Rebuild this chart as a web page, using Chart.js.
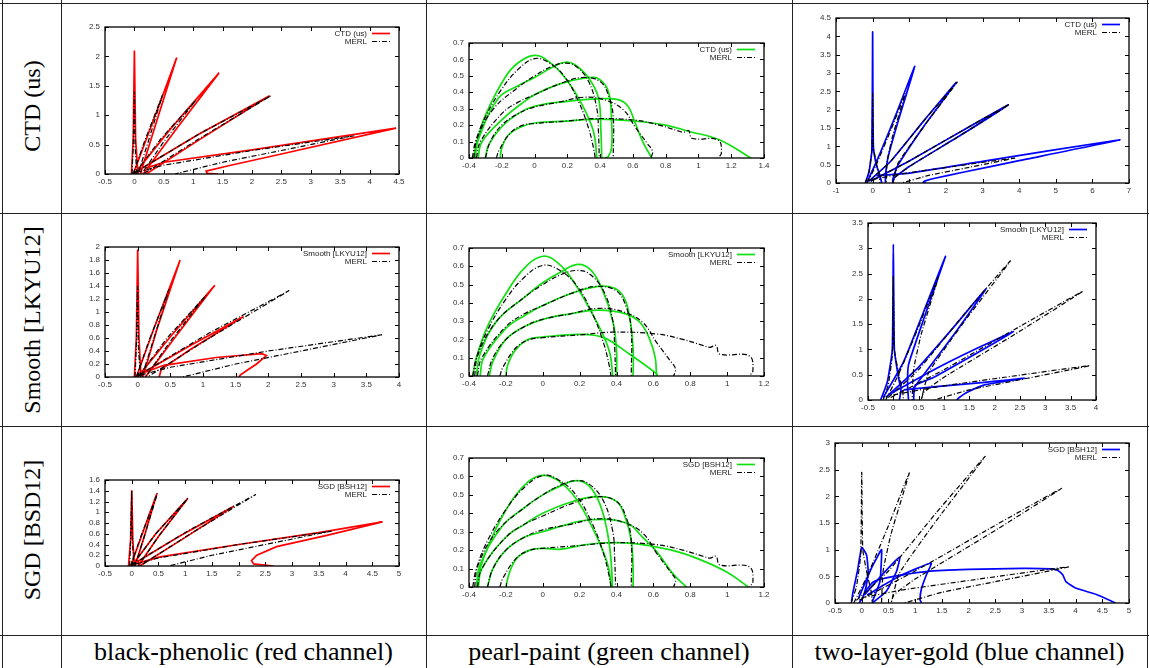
<!DOCTYPE html>
<html>
<head>
<meta charset="utf-8">
<script src="https://cdn.jsdelivr.net/npm/chart.js@4.4.0/dist/chart.umd.min.js"></script>
<style>
  body { margin: 0; background: #fff; }
  #page { position: relative; width: 1149px; height: 668px; overflow: hidden; background: #fff; }
  .hl, .vl { position: absolute; background: #222; }
  .hl { left: 0; width: 1149px; height: 1px; }
  .vl { top: 0; width: 1px; height: 668px; }
  .rowlab { position: absolute; left: 32px; font-family: "Liberation Serif", "Times New Roman", serif; font-size: 24px;
            white-space: nowrap; color: #000; transform: translate(-50%, -50%) rotate(-90deg); }
  .collab { position: absolute; top: 636px; height: 32px; line-height: 32px; text-align: center;
            font-family: "Liberation Serif", "Times New Roman", serif; font-size: 26px; color: #000; white-space: nowrap; }
  canvas { position: absolute; }
</style>
</head>
<body>
<div id="page">
  <div class="hl" style="top:3px"></div>
  <div class="hl" style="top:213px"></div>
  <div class="hl" style="top:426px"></div>
  <div class="hl" style="top:635px"></div>
  <div class="vl" style="left:2px"></div>
  <div class="vl" style="left:61px"></div>
  <div class="vl" style="left:426px"></div>
  <div class="vl" style="left:792px"></div>
  <div class="vl" style="left:1147px"></div>
</div>
<script>
// row / column captions
const rowNames = ['CTD (us)', 'Smooth [LKYU12]', 'SGD [BSD12]'];
const legendNames = ['CTD (us)', 'Smooth [LKYU12]', 'SGD [BSH12]'];
const materialNames = ['black-phenolic (red channel)', 'pearl-paint (green channel)', 'two-layer-gold (blue channel)'];

// axis ranges per panel, row by row: [xmin, xmax, xstep, ymin, ymax, ystep]
const axisRanges = [
  [-0.5, 4.5, 0.5, 0, 2.5, 0.5], [-0.4, 1.4, 0.2, 0, 0.7, 0.1], [-1, 7, 1, 0, 4.5, 0.5],
  [-0.5, 4, 0.5, 0, 2, 0.2],     [-0.4, 1.2, 0.2, 0, 0.7, 0.1], [-0.5, 4, 0.5, 0, 3.5, 0.5],
  [-0.5, 5, 0.5, 0, 1.6, 0.2],   [-0.4, 1.2, 0.2, 0, 0.7, 0.1], [-0.5, 5, 0.5, 0, 3, 0.5]
];

// black-phenolic lobes (x, y pairs)
const phenolicMerl = [
  [[-0.04,0],[-0.02,0.5],[0,1.4],[0.01,0.5],[0.04,0]],
  [[-0.02,0],[0.17,0.55],[0.48,1.35],[0.22,0.5],[0.06,0]],
  [[0,0],[0.45,0.6],[1.05,1.26],[0.5,0.55],[0.12,0]],
  [[0,0.02],[1.1,0.68],[2.32,1.33],[1.1,0.6],[0.15,0]],
  [[0.05,0.03],[0.5,0.15],[2,0.4],[3.74,0.65],[2.5,0.4],[1.5,0.2],[0.69,0]]
];
const phenolicCtd = [
  [[-0.05,0],[-0.02,0.6],[0,2.1],[0.02,0.6],[0.06,0]],
  [[-0.02,0],[0.3,0.85],[0.72,1.98],[0.38,0.9],[0.1,0]],
  [[0,0],[0.6,0.75],[1.44,1.72],[0.7,0.75],[0.15,0]],
  [[0,0.02],[1.1,0.68],[2.3,1.33],[1.1,0.58],[0.2,0]],
  [[0.2,0.1],[0.5,0.2],[2,0.41],[4.45,0.78],[2.5,0.34],[1.6,0.14],[1.22,0.05],[1.24,0.01],[1.42,0]]
];
const phenolicSmooth = [
  [[-0.05,0],[-0.02,0.6],[0,1.96],[0.02,0.6],[0.05,0]],
  [[-0.02,0],[0.25,0.75],[0.65,1.8],[0.3,0.75],[0.08,0]],
  [[0,0],[0.5,0.62],[1.18,1.41],[0.55,0.58],[0.12,0]],
  [[0,0.02],[0.8,0.48],[1.62,0.93],[0.8,0.42],[0.36,0.12],[0.33,0]],
  [[0.05,0.05],[0.4,0.18],[1.2,0.3],[1.9,0.36],[1.97,0.33],[1.82,0.2],[1.67,0.1],[1.57,0.03],[1.55,0]]
];
const phenolicSgd = [
  [[-0.06,0],[-0.02,0.5],[0,1.41],[0.02,0.5],[0.05,0]],
  [[-0.02,0],[0.18,0.55],[0.47,1.35],[0.22,0.5],[0.06,0]],
  [[0,0],[0.45,0.6],[1.05,1.26],[0.5,0.55],[0.12,0]],
  [[0,0.02],[0.9,0.56],[1.91,1.11],[0.95,0.5],[0.15,0]],
  [[0.1,0.05],[0.53,0.17],[2,0.4],[3.5,0.62],[4.69,0.82],[3.65,0.57],[2.71,0.36],[2.34,0.2],[2.24,0.1],[2.28,0.04],[2.65,0]]
];

// pearl-paint lobes
const pearlMerl = [
  [[-0.38,0],[-0.36,0.1],[-0.3,0.25],[-0.2,0.42],[-0.1,0.54],[0,0.605],[0.08,0.585],[0.18,0.5],[0.27,0.34],[0.33,0.18],[0.36,0.06],[0.37,0]],
  [[-0.37,0],[-0.35,0.12],[-0.25,0.3],[-0.1,0.43],[0,0.5],[0.1,0.555],[0.18,0.577],[0.25,0.56],[0.33,0.465],[0.38,0.3],[0.39,0.157],[0.395,0]],
  [[-0.355,0],[-0.33,0.1],[-0.2,0.27],[-0.1,0.34],[0,0.385],[0.15,0.45],[0.29,0.49],[0.4,0.465],[0.454,0.374],[0.48,0.25],[0.48,0]],
  [[-0.3,0],[-0.27,0.1],[-0.2,0.2],[-0.1,0.27],[0,0.31],[0.15,0.34],[0.3,0.37],[0.44,0.35],[0.545,0.29],[0.617,0.184],[0.69,0.085],[0.72,0.04],[0.71,0]],
  [[-0.233,0],[-0.215,0.05],[-0.143,0.157],[-0.07,0.2],[0,0.21],[0.2,0.225],[0.38,0.24],[0.617,0.23],[0.76,0.2],[0.87,0.167],[0.907,0.157],[0.94,0.167],[0.96,0.12],[1.12,0.11],[1.14,0.03],[1.12,0]]
];
const pearlCtd = [
  [[-0.374,0],[-0.35,0.1],[-0.3,0.26],[-0.18,0.49],[-0.1,0.58],[0,0.625],[0.084,0.59],[0.185,0.49],[0.29,0.325],[0.36,0.16],[0.38,0]],
  [[-0.364,0],[-0.34,0.12],[-0.22,0.365],[-0.1,0.44],[0,0.49],[0.1,0.548],[0.185,0.583],[0.247,0.568],[0.33,0.487],[0.39,0.365],[0.405,0.16],[0.41,0]],
  [[-0.345,0],[-0.32,0.1],[-0.18,0.25],[-0.08,0.33],[0,0.385],[0.15,0.45],[0.31,0.487],[0.39,0.483],[0.45,0.406],[0.47,0.223],[0.47,0.06],[0.45,0.01],[0.43,0]],
  [[-0.3,0],[-0.28,0.08],[-0.2,0.19],[-0.1,0.27],[0,0.315],[0.2,0.345],[0.39,0.36],[0.51,0.355],[0.57,0.315],[0.61,0.223],[0.66,0.1],[0.715,0]],
  [[-0.21,0],[-0.2,0.06],[-0.16,0.14],[-0.08,0.19],[0,0.213],[0.2,0.225],[0.39,0.237],[0.6,0.225],[0.8,0.2],[0.95,0.16],[1.13,0.11],[1.32,0]]
];
const pearlSmooth = [
  [[-0.38,0],[-0.36,0.1],[-0.3,0.27],[-0.2,0.45],[-0.1,0.59],[0,0.655],[0.08,0.62],[0.165,0.52],[0.29,0.3],[0.36,0.14],[0.38,0]],
  [[-0.36,0],[-0.34,0.12],[-0.25,0.3],[-0.1,0.43],[0,0.51],[0.1,0.57],[0.19,0.61],[0.26,0.58],[0.32,0.48],[0.38,0.3],[0.4,0.14],[0.4,0]],
  [[-0.34,0],[-0.32,0.1],[-0.2,0.26],[-0.1,0.33],[0,0.385],[0.15,0.45],[0.3,0.49],[0.39,0.48],[0.44,0.43],[0.47,0.33],[0.49,0.15],[0.49,0]],
  [[-0.29,0],[-0.27,0.08],[-0.2,0.2],[-0.1,0.27],[0,0.31],[0.15,0.34],[0.3,0.36],[0.45,0.34],[0.53,0.29],[0.58,0.2],[0.61,0.1],[0.617,0]],
  [[-0.2,0],[-0.19,0.06],[-0.15,0.14],[-0.08,0.2],[0,0.213],[0.2,0.228],[0.33,0.21],[0.47,0.12],[0.62,0.01],[0.62,0]]
];
const pearlSgd = [
  [[-0.36,0],[-0.34,0.1],[-0.28,0.26],[-0.18,0.45],[-0.08,0.57],[0,0.606],[0.08,0.58],[0.18,0.48],[0.28,0.3],[0.35,0.13],[0.373,0]],
  [[-0.36,0],[-0.34,0.12],[-0.22,0.33],[-0.1,0.43],[0,0.5],[0.1,0.55],[0.183,0.577],[0.25,0.55],[0.31,0.45],[0.35,0.3],[0.37,0.15],[0.378,0]],
  [[-0.35,0],[-0.33,0.1],[-0.2,0.27],[-0.1,0.34],[0,0.4],[0.15,0.46],[0.29,0.49],[0.4,0.465],[0.45,0.37],[0.48,0.25],[0.49,0.1],[0.49,0]],
  [[-0.3,0],[-0.27,0.1],[-0.2,0.2],[-0.1,0.27],[0,0.3],[0.1,0.33],[0.255,0.365],[0.455,0.347],[0.545,0.266],[0.62,0.19],[0.71,0.067],[0.78,0]],
  [[-0.2,0],[-0.18,0.08],[-0.14,0.157],[-0.07,0.2],[0,0.21],[0.1,0.205],[0.2,0.225],[0.35,0.24],[0.5,0.235],[0.7,0.2],[0.85,0.15],[1.0,0.08],[1.115,0]]
];

// two-layer-gold lobes
const goldMerl = [
  [[-0.2,0],[-0.1,0.3],[-0.02,0.9],[0,2.45],[0.02,1.0],[0.1,0.55],[0.18,0.2],[0.2,0]],
  [[-0.15,0],[0.1,0.5],[0.5,1.45],[0.89,2.44],[0.55,1.3],[0.4,0.6],[0.37,0]],
  [[-0.1,0.05],[0.5,0.6],[1.4,1.7],[2.31,2.75],[1.4,1.55],[0.7,0.55],[0.55,0]],
  [[-0.05,0.05],[1.0,0.6],[2.4,1.4],[3.74,2.15],[2.4,1.3],[1.0,0.45],[0.6,0.15],[0.55,0]],
  [[0,0.1],[0.8,0.25],[2.2,0.45],[3.88,0.68],[2.5,0.4],[1.5,0.2],[0.8,0]]
];
const goldCtd = [
  [[-0.2,0],[-0.1,0.3],[-0.02,0.9],[0,4.12],[0.02,1.0],[0.1,0.5],[0.2,0.2],[0.25,0]],
  [[-0.15,0.02],[0.2,0.8],[0.65,1.9],[1.15,3.18],[0.7,1.7],[0.42,0.7],[0.35,0.2],[0.35,0]],
  [[-0.1,0.05],[0.5,0.6],[1.4,1.7],[2.28,2.74],[1.4,1.55],[0.7,0.5],[0.55,0.1],[0.55,0]],
  [[-0.05,0.05],[1.0,0.6],[2.4,1.4],[3.7,2.13],[2.4,1.3],[1.0,0.45],[0.6,0.15],[0.55,0]],
  [[0.1,0.2],[1.0,0.27],[3.0,0.59],[6.75,1.18],[4.0,0.61],[2.5,0.3],[1.7,0.13],[1.42,0.05],[1.38,0.02],[1.45,0]]
];
const goldSmooth = [
  [[-0.25,0],[-0.12,0.35],[-0.02,1.0],[0,3.08],[0.02,1.0],[0.1,0.45],[0.15,0.2],[0.12,0]],
  [[-0.2,0.05],[0.2,0.75],[0.6,1.75],[1.03,2.84],[0.6,1.6],[0.3,0.7],[0.28,0.3],[0.3,0]],
  [[-0.15,0.05],[0.5,0.65],[1.2,1.45],[1.83,2.2],[1.2,1.3],[0.6,0.5],[0.42,0.25],[0.4,0]],
  [[-0.1,0.1],[0.8,0.6],[1.6,1.0],[2.37,1.35],[1.6,0.9],[0.8,0.45],[0.45,0.3],[0.38,0.2]],
  [[0.2,0.2],[0.9,0.27],[1.8,0.35],[2.6,0.43],[1.8,0.3],[1.45,0.15],[1.3,0.05],[1.25,0]]
];
const goldSgd = [
  [[-0.19,0.03],[-0.16,0.22],[-0.08,0.6],[0,1.04],[0.09,0.9],[0.12,0.59],[0.08,0.3],[0.02,0.1],[-0.05,0]],
  [[-0.06,0.09],[0.18,0.65],[0.37,1.0],[0.37,0.84],[0.34,0.4],[0.2,0.03]],
  [[0.05,0.15],[0.4,0.55],[0.71,0.86],[0.65,0.59],[0.46,0.22],[0.2,0]],
  [[0.1,0.15],[0.7,0.5],[1.3,0.75],[1.21,0.53],[1.12,0.28],[1.09,0.06],[1.12,0]],
  [[0.05,0.2],[0.22,0.4],[0.6,0.5],[1.21,0.59],[2.0,0.63],[3.0,0.65],[3.55,0.64],[3.67,0.61],[3.76,0.53],[3.82,0.4],[4.0,0.28],[4.39,0.16],[4.75,0]]
];

// plot frames on the page [left, top, right, bottom], row by row
const panelFrames = [
  [105, 27, 399, 174], [469, 43, 764, 158], [836, 18, 1129, 183],
  [105, 247, 399, 377], [469, 248, 764, 376], [868, 223, 1096, 400],
  [105, 480, 399, 566], [469, 458, 764, 587], [835, 443, 1129, 603]
];

const modelLobes = [
  [phenolicCtd, pearlCtd, goldCtd],
  [phenolicSmooth, pearlSmooth, goldSmooth],
  [phenolicSgd, pearlSgd, goldSgd]
];
const merlLobes = [phenolicMerl, pearlMerl, goldMerl];
const channelColors = ['#ff0000', '#11e011', '#0000ff'];
const lobeTension = [0, 0.4, 0.15];
const merlDash = [5, 2, 1, 2];

const page = document.getElementById('page');
const sansFont = '"Liberation Sans", Arial, sans-serif';

rowNames.forEach((name, r) => {
  const d = document.createElement('div');
  d.className = 'rowlab';
  d.style.top = [106, 320, 530][r] + 'px';
  d.textContent = name;
  page.appendChild(d);
});
materialNames.forEach((name, c) => {
  const d = document.createElement('div');
  d.className = 'collab';
  const x0 = [61, 426, 792][c], x1 = [426, 792, 1147][c];
  d.style.left = x0 + 'px';
  d.style.width = (x1 - x0) + 'px';
  d.textContent = name;
  page.appendChild(d);
});

// gnuplot-ish frame: box, inward ticks on all sides, key in the top right corner
function gnuFrame(entries) {
  return {
    id: 'gnuFrame',
    afterDatasetsDraw(chart) {
      const { ctx, chartArea: a, scales: { x, y } } = chart;
      ctx.save();
      ctx.strokeStyle = '#000';
      ctx.lineWidth = 1;
      ctx.setLineDash([]);
      ctx.beginPath();
      x.ticks.forEach(t => {
        const p = Math.round(x.getPixelForValue(t.value)) + 0.5;
        ctx.moveTo(p, a.bottom); ctx.lineTo(p, a.bottom - 4);
        ctx.moveTo(p, a.top); ctx.lineTo(p, a.top + 4);
      });
      y.ticks.forEach(t => {
        const p = Math.round(y.getPixelForValue(t.value)) + 0.5;
        ctx.moveTo(a.left, p); ctx.lineTo(a.left + 4, p);
        ctx.moveTo(a.right, p); ctx.lineTo(a.right - 4, p);
      });
      ctx.stroke();
      ctx.lineWidth = 1.3;
      ctx.strokeRect(a.left, a.top, a.right - a.left, a.bottom - a.top);

      ctx.font = '8px ' + sansFont;
      ctx.textAlign = 'right';
      ctx.textBaseline = 'middle';
      entries.forEach((e, k) => {
        const yy = Math.round(a.top + 6 + k * 8.3) + 0.5;
        ctx.fillStyle = '#222';
        ctx.fillText(e.label, a.right - 32, yy);
        ctx.strokeStyle = e.color;
        ctx.lineWidth = e.width;
        ctx.setLineDash(e.dash);
        ctx.beginPath();
        ctx.moveTo(a.right - 27, yy);
        ctx.lineTo(a.right - 9, yy);
        ctx.stroke();
      });
      ctx.restore();
    }
  };
}

function lobeSets(lobes, color, width, dash, tension, order) {
  return lobes.map(l => ({
    data: l.map(p => ({ x: p[0], y: p[1] })),
    showLine: true,
    borderColor: color,
    borderWidth: width,
    borderDash: dash,
    pointRadius: 0,
    pointHoverRadius: 0,
    tension: tension,
    fill: false,
    order: order
  }));
}

const fmt = v => String(Math.round(v * 100) / 100);
const padL = 40, padT = 10, padR = 14, padB = 18;

for (let r = 0; r < 3; r++) {
  for (let c = 0; c < 3; c++) {
    const i = r * 3 + c;
    const [L, T, R, B] = panelFrames[i];
    const rng = axisRanges[i];
    const cv = document.createElement('canvas');
    cv.width = R - L + padL + padR;
    cv.height = B - T + padT + padB;
    cv.style.left = (L - padL) + 'px';
    cv.style.top = (T - padT) + 'px';
    page.appendChild(cv);

    const color = channelColors[c];
    const datasets = lobeSets(modelLobes[r][c], color, 1.7, [], lobeTension[c], 1)
      .concat(lobeSets(merlLobes[c], '#000', 1.2, merlDash, lobeTension[c], 0));

    const tickOpts = (step, pad) => ({
      stepSize: step, autoSkip: false, maxRotation: 0, padding: pad,
      color: '#333', font: { family: sansFont, size: 8 }, callback: fmt
    });

    new Chart(cv, {
      type: 'scatter',
      data: { datasets },
      options: {
        responsive: false,
        animation: false,
        events: [],
        layout: { padding: { left: 0, top: padT, right: padR, bottom: 0 } },
        plugins: { legend: { display: false }, tooltip: { enabled: false } },
        scales: {
          x: {
            type: 'linear', min: rng[0], max: rng[1],
            grid: { display: false, drawTicks: false }, border: { display: false },
            ticks: tickOpts(rng[2], 3),
            afterFit: s => { s.height = padB; }
          },
          y: {
            type: 'linear', min: rng[3], max: rng[4],
            grid: { display: false, drawTicks: false }, border: { display: false },
            ticks: tickOpts(rng[5], 5),
            afterFit: s => { s.width = padL; }
          }
        }
      },
      plugins: [gnuFrame([
        { label: legendNames[r], color: color, width: 1.7, dash: [] },
        { label: 'MERL', color: '#000', width: 1.2, dash: merlDash }
      ])]
    });
  }
}
</script>
</body>
</html>
